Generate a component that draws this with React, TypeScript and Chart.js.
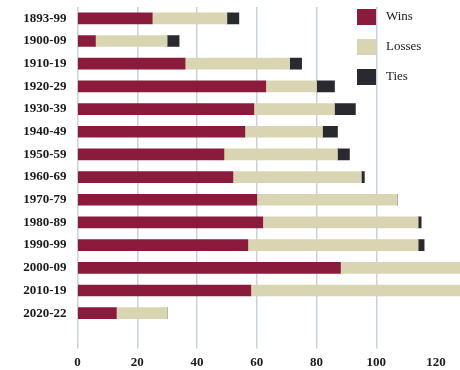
import React, { useEffect, useRef } from "react";
import { Chart, registerables } from "chart.js";

Chart.register(...registerables);

const decades = [
  "1893-99", "1900-09", "1910-19", "1920-29", "1930-39", "1940-49", "1950-59",
  "1960-69", "1970-79", "1980-89", "1990-99", "2000-09", "2010-19", "2020-22",
];
const wins = [25, 6, 36, 63, 59, 56, 49, 52, 60, 62, 57, 88, 58, 13];
const losses = [25, 24, 35, 17, 27, 26, 38, 43, 47, 52, 57, 42, 72, 17];
const ties = [4, 4, 4, 6, 7, 5, 4, 1, 0, 1, 2, 0, 0, 0];
const xTicks = [0, 20, 40, 60, 80, 100, 120];

const WIN_COLOR = "#8a1b3d";
const LOSS_COLOR = "#d9d5b2";
const TIE_COLOR = "#2a292f";
const GRID_COLOR = "#c9d2de";
const FONT = "'Liberation Serif', 'DejaVu Serif', serif";

const legendPlugin = {
  id: "customLegend",
  afterDraw(chart: any) {
    const ctx = chart.ctx;
    ctx.save();
    chart.data.datasets.forEach((ds: any, i: number) => {
      const y = 9 + i * 30;
      ctx.fillStyle = ds.backgroundColor;
      ctx.fillRect(357, y, 19, 16);
      ctx.fillStyle = "#1a1a1a";
      ctx.font = `13px ${FONT}`;
      ctx.textBaseline = "middle";
      ctx.textAlign = "left";
      ctx.fillText(ds.label, 386, y + 8);
    });
    ctx.restore();
  },
};

export default function App() {
  const ref = useRef<HTMLCanvasElement>(null);
  useEffect(() => {
    if (!ref.current) return;
    const chart = new Chart(ref.current, {
      type: "bar",
      data: {
        labels: decades,
        datasets: [
          { label: "Wins", data: wins, backgroundColor: WIN_COLOR },
          { label: "Losses", data: losses, backgroundColor: LOSS_COLOR },
          { label: "Ties", data: ties, backgroundColor: TIE_COLOR },
        ],
      },
      options: {
        indexAxis: "y",
        animation: false,
        responsive: false,
        maintainAspectRatio: false,
        layout: { padding: { top: 7, right: 0, left: 0, bottom: 0 } },
        datasets: { bar: { barThickness: 11, borderWidth: 0 } },
        plugins: { legend: { display: false }, tooltip: { enabled: false } },
        scales: {
          x: {
            stacked: true,
            min: 0,
            max: 128,
            border: { display: false },
            grid: {
              color: (c: any) => (c.tick && c.tick.value === 120 ? "rgba(0,0,0,0)" : GRID_COLOR),
              lineWidth: 1.5,
              drawTicks: true,
              tickLength: 24,
            },
            ticks: {
              stepSize: 20,
              includeBounds: false,
              padding: 6,
              color: "#1a1a1a",
              font: { family: FONT, size: 13, weight: "bold" },
              callback: (v: any) => (xTicks.includes(Number(v)) ? String(v) : ""),
            },
            afterFit: (s: any) => {
              s.height = 45.5;
              s.paddingLeft = 0;
              s.paddingRight = 0;
            },
          },
          y: {
            stacked: true,
            border: { display: false },
            grid: { display: false, drawTicks: false },
            ticks: {
              padding: 11,
              color: "#1a1a1a",
              font: { family: FONT, size: 13, weight: "bold" },
            },
            afterFit: (s: any) => {
              s.width = 77.5;
              s.paddingTop = 0;
              s.paddingBottom = 0;
            },
          },
        },
      },
      plugins: [legendPlugin],
    });
    return () => chart.destroy();
  }, []);
  return (
    <div style={{ position: "fixed", left: 0, top: 0, width: 460, height: 370, background: "#fff" }}>
      <canvas ref={ref} width={460} height={370} style={{ display: "block" }} />
    </div>
  );
}
